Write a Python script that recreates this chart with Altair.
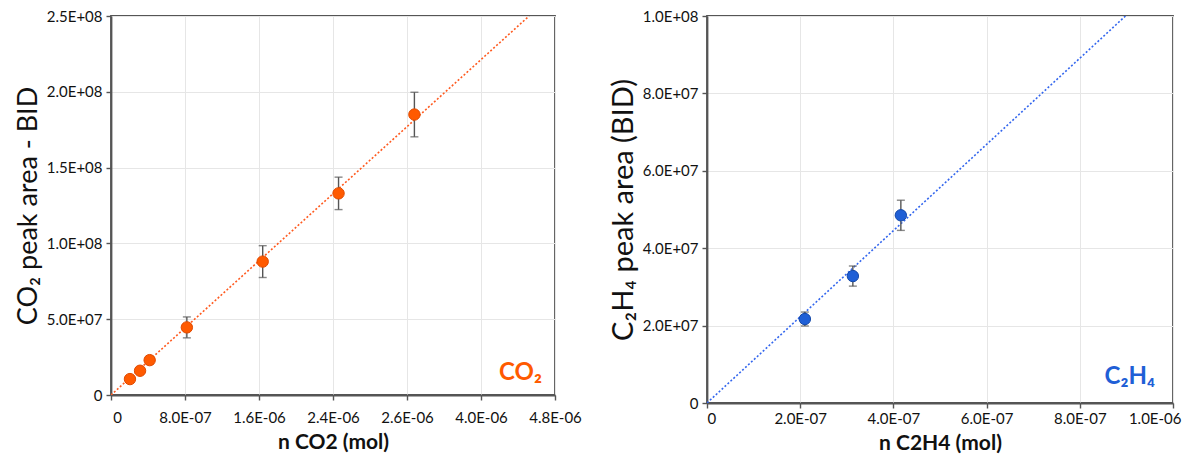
import altair as alt
import pandas as pd

# ---- CO2 calibration (left) ----
co2_n = [2.05e-7, 3.14e-7, 4.18e-7, 8.2e-7, 1.64e-6, 2.46e-6, 3.28e-6]
co2_area = [1.05e7, 1.6e7, 2.3e7, 4.46e7, 8.8e7, 1.33e8, 1.85e8]
co2_err = [1.0e6, 1.2e6, 2.5e6, 6.9e6, 1.05e7, 1.07e7, 1.47e7]
co2_fit_n = [0.0, 4.52e-6]
co2_fit_area = [0.0, 2.5e8]
co2_xticks = [0, 8e-7, 1.6e-6, 2.4e-6, 3.2e-6, 4.0e-6, 4.8e-6]
co2_xlabels = ["0", "8.0E-07", "1.6E-06", "2.4E-06", "2.6E-06", "4.0E-06", "4.8E-06"]
co2_yticks = [0, 5e7, 1e8, 1.5e8, 2e8, 2.5e8]
co2_ylabels = ["0", "5.0E+07", "1.0E+08", "1.5E+08", "2.0E+08", "2.5E+08"]

# ---- C2H4 calibration (right) ----
c2h4_n = [2.1e-7, 3.13e-7, 4.16e-7]
c2h4_area = [2.17e7, 3.28e7, 4.85e7]
c2h4_err = [1.8e6, 2.6e6, 3.9e6]
c2h4_fit_n = [0.0, 8.98e-7]
c2h4_fit_area = [0.0, 1.0e8]
c2h4_xticks = [0, 2e-7, 4e-7, 6e-7, 8e-7, 1e-6]
c2h4_xlabels = ["0", "2.0E-07", "4.0E-07", "6.0E-07", "8.0E-07", "1.0E-06"]
c2h4_yticks = [0, 2e7, 4e7, 6e7, 8e7, 1e8]
c2h4_ylabels = ["0", "2.0E+07", "4.0E+07", "6.0E+07", "8.0E+07", "1.0E+08"]

FONT = "Lato"


def label_expr(values, labels):
    span = max(values) - min(values)
    tol = span * 1e-4
    expr = "''"
    for v, l in reversed(list(zip(values, labels))):
        expr = f"abs(datum.value - ({v!r})) < {tol!r} ? '{l}' : ({expr})"
    return expr


def panel(n, area, err, fit_n, fit_area, xticks, xlabels, yticks, ylabels,
          xtitle, ytitle, tag, color, edge, linecolor, w, h,
          ytitle_size, xlab_pad, flush, first_off, last_off, tag_dx, tag_dy):
    df = pd.DataFrame({"n": n, "area": area, "err": err})
    df["lo"] = df["area"] - df["err"]
    df["hi"] = df["area"] + df["err"]
    fit = pd.DataFrame({"n": fit_n, "area": fit_area})

    xmin, xmax = min(xticks), max(xticks)
    tol = (xmax - xmin) * 1e-4
    xs = alt.Scale(domain=[xmin, xmax], nice=False)
    ys = alt.Scale(domain=[min(yticks), max(yticks)], nice=False)
    xax = alt.Axis(
        values=xticks, labelExpr=label_expr(xticks, xlabels),
        labelOverlap=False, labelPadding=xlab_pad, labelBound=False,
        labelFlush=flush,
        labelOffset={"condition": [
            {"test": f"datum.value < {xmin + tol!r}", "value": first_off},
            {"test": f"datum.value > {xmax - tol!r}", "value": last_off}],
            "value": 0},
        title=xtitle, titleFontSize=21, titleFontWeight="bold",
        titleColor="#111", titlePadding=6)
    yax = alt.Axis(values=yticks, labelExpr=label_expr(yticks, ylabels),
                   labelOverlap=False,
                   title=ytitle, titleFontSize=ytitle_size,
                   titleFontWeight="normal",
                   titleColor="#111", titlePadding=4, labelPadding=4)

    base = alt.Chart(df)
    line = alt.Chart(fit).mark_line(color=linecolor, strokeDash=[2, 2],
                                    strokeWidth=1.6, clip=True).encode(
        x=alt.X("n:Q", scale=xs, axis=xax),
        y=alt.Y("area:Q", scale=ys, axis=yax),
    )
    rule = base.mark_rule(color="#555", strokeWidth=1.4).encode(
        x="n:Q", y="lo:Q", y2="hi:Q")
    cap_lo = base.mark_tick(orient="horizontal", color="#555", size=8,
                            thickness=1.4).encode(x="n:Q", y="lo:Q")
    cap_hi = base.mark_tick(orient="horizontal", color="#555", size=8,
                            thickness=1.4).encode(x="n:Q", y="hi:Q")
    pts = base.mark_circle(size=130, color=color, opacity=1,
                           stroke=edge, strokeWidth=1).encode(
        x="n:Q", y="area:Q")
    lab = alt.Chart(pd.DataFrame({"t": [tag]})).mark_text(
        align="right", baseline="middle", fontSize=24, fontWeight="bold",
        color=color, font=FONT).encode(
        x=alt.value(w - tag_dx), y=alt.value(h - tag_dy), text="t:N")
    return alt.layer(line, rule, cap_lo, cap_hi, pts, lab).properties(
        width=w, height=h)


left = panel(co2_n, co2_area, co2_err, co2_fit_n, co2_fit_area,
             co2_xticks, co2_xlabels, co2_yticks, co2_ylabels,
             "n CO2 (mol)", "CO\u2082 peak area - BID", "CO\u2082",
             "#ff5a00", "#e04a00", "#ff5a1f", 444, 379,
             27, 10, False, 6, 0, 13, 22)
right = panel(c2h4_n, c2h4_area, c2h4_err, c2h4_fit_n, c2h4_fit_area,
              c2h4_xticks, c2h4_xlabels, c2h4_yticks, c2h4_ylabels,
              "n C2H4 (mol)", "C\u2082H\u2084 peak area (BID)", "C\u2082H\u2084",
              "#1f5fd6", "#1448a8", "#3366ee", 466, 387,
              29, 3, True, 0, 8, 18, 26)

chart = alt.hconcat(left, right, spacing=25).properties(
    padding={"left": 5, "top": 0, "right": 0, "bottom": 0},
).configure(
    font=FONT,
).configure_axis(
    labelFont=FONT, titleFont=FONT, labelFontSize=15, labelColor="#111",
    gridColor="#e6e6e6", gridWidth=1, domainColor="#555", domainWidth=1.8,
    tickColor="#555", tickSize=5, tickWidth=1.4,
).configure_view(
    stroke="#555", strokeWidth=1.8,
)

chart.save("out.html", embed_options={"renderer": "svg", "actions": False})
